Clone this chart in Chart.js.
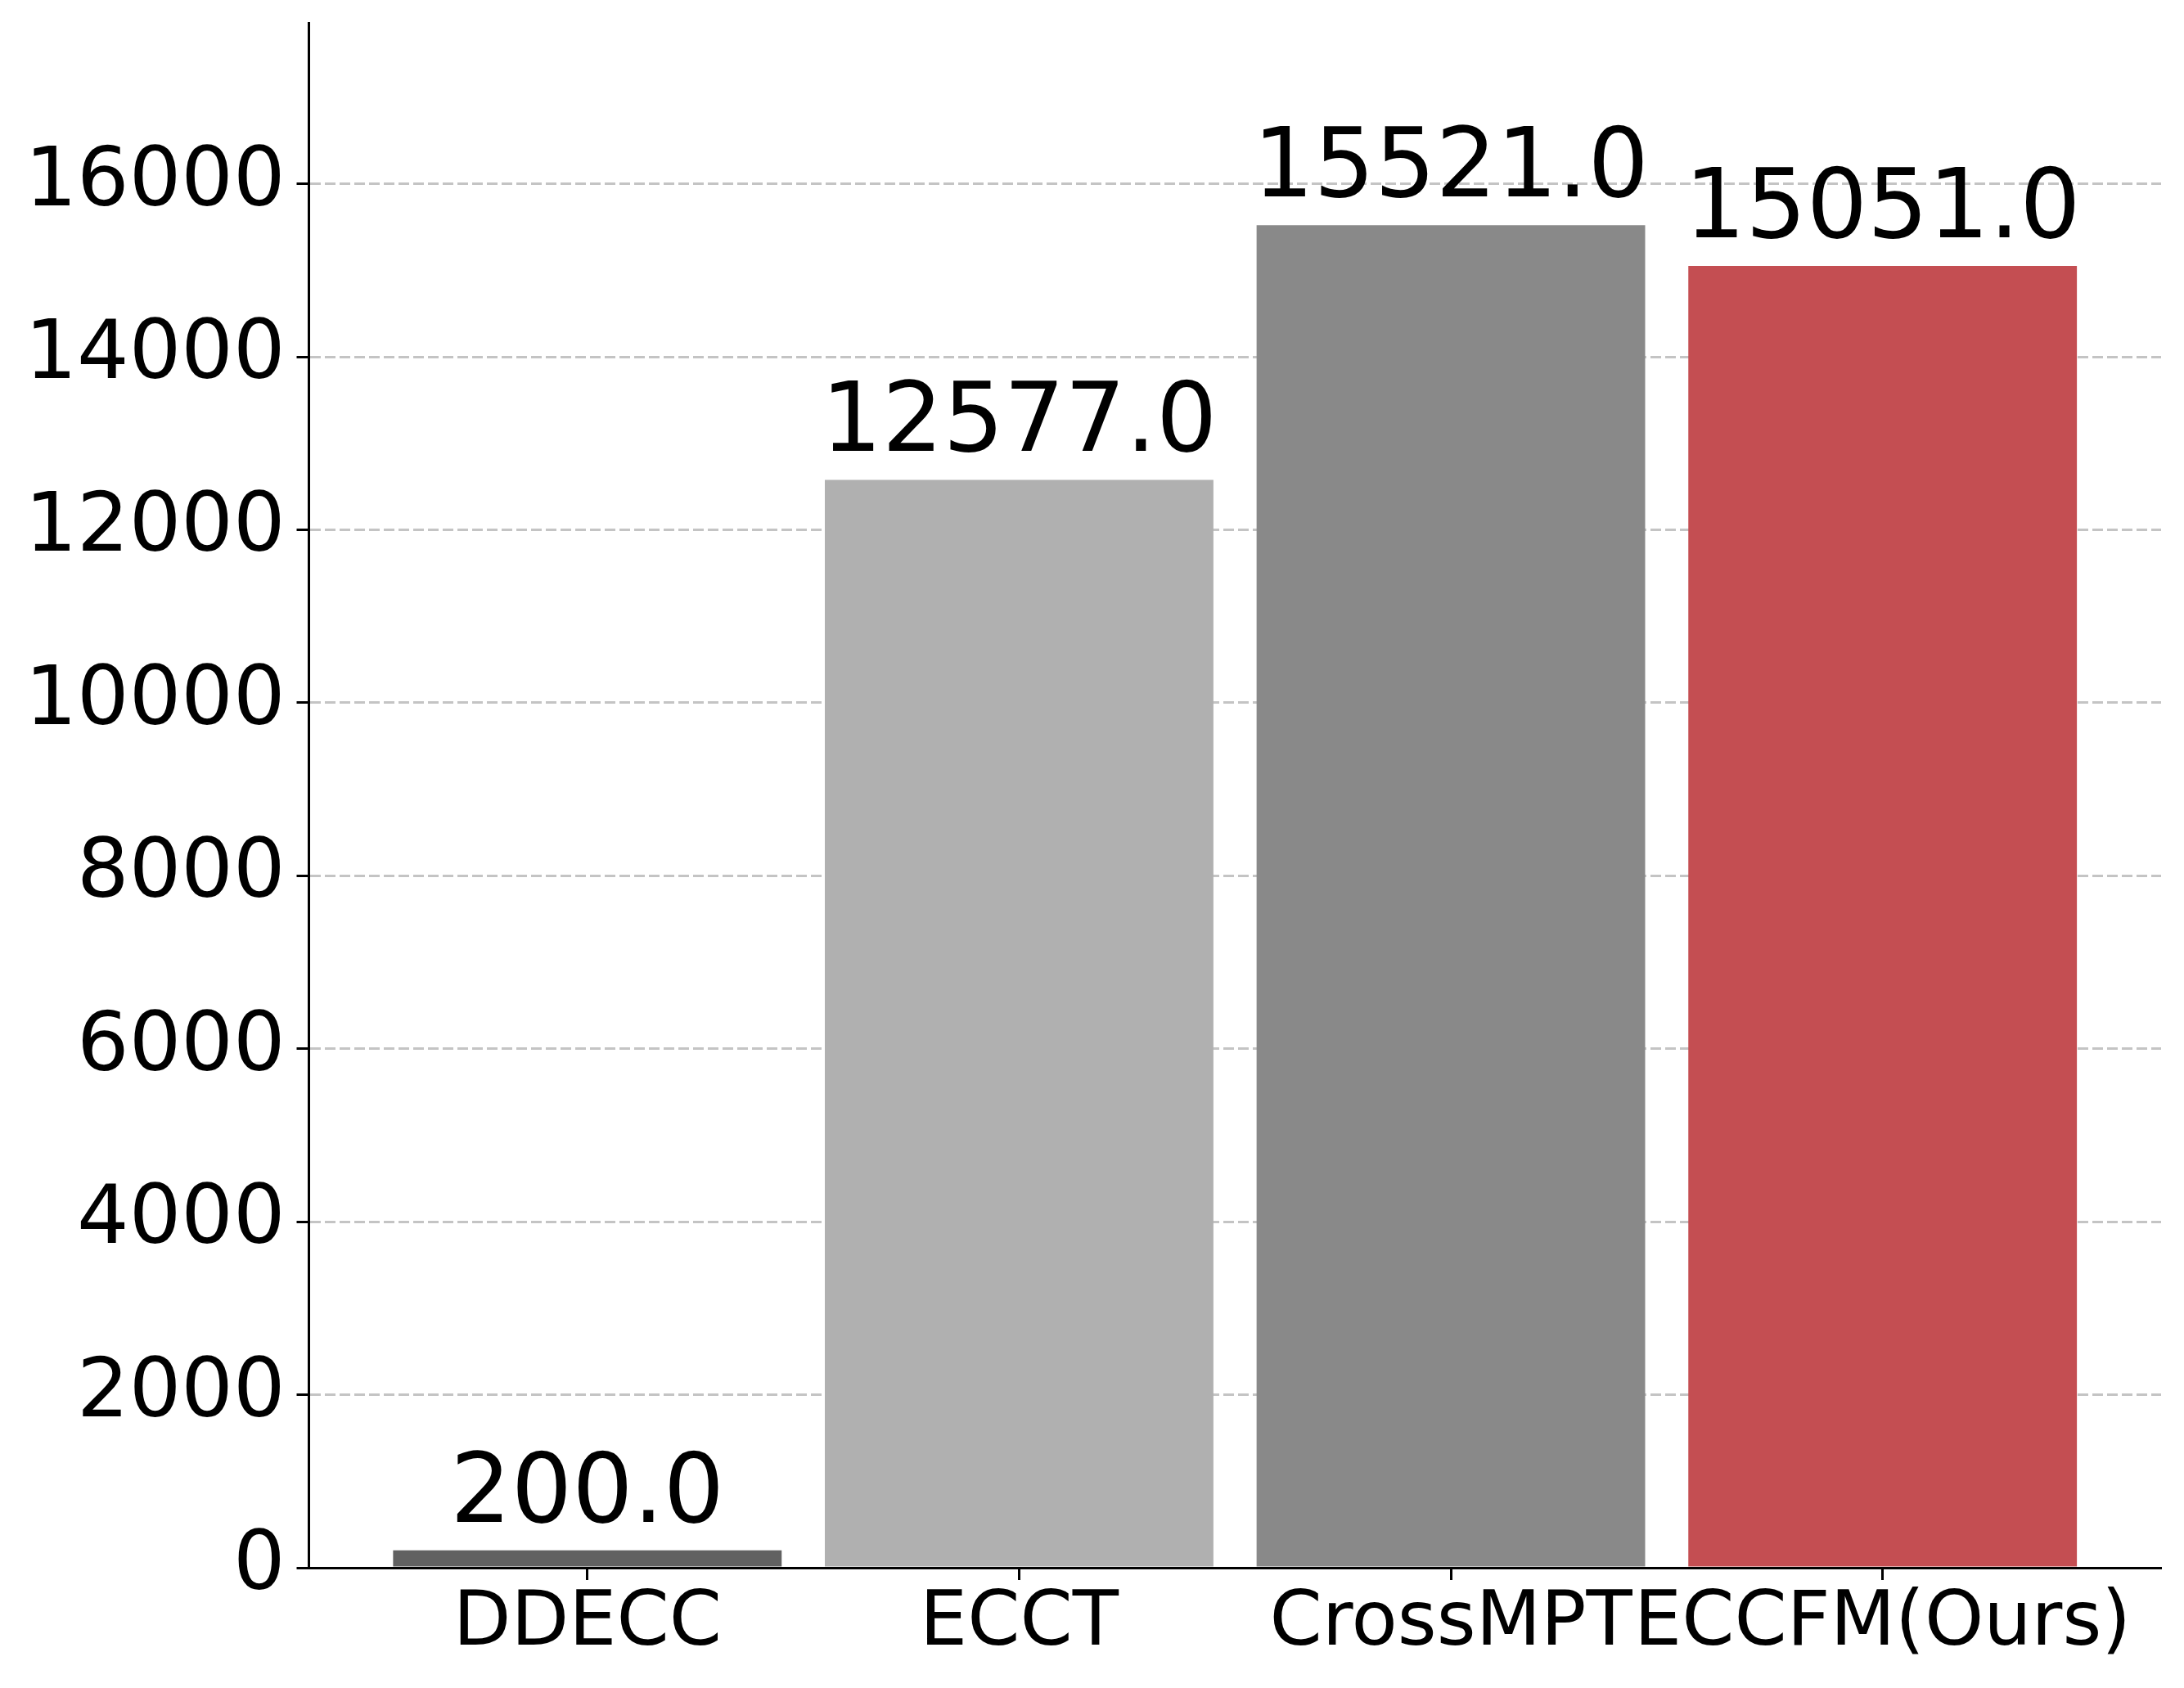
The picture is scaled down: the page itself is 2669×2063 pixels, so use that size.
<!DOCTYPE html>
<html>
<head>
<meta charset="utf-8">
<title>Bar chart</title>
<script src="https://cdn.jsdelivr.net/npm/chart.js@4.4.1/dist/chart.umd.min.js"></script>
<style>
  html, body { margin: 0; padding: 0; background: #fff; }
  canvas { display: block; }
</style>
</head>
<body>
<canvas id="chart" width="2669" height="2063"></canvas>
<script>
// data
const categories = ['DDECC', 'ECCT', 'CrossMPT', 'ECCFM(Ours)'];
const values = [200, 12577, 15521, 15051];
const yTicks = [0, 2000, 4000, 6000, 8000, 10000, 12000, 14000, 16000];
const yMax = 17860;

const barColors = ['#616161', '#b0b0b0', '#898989', '#c44e52'];
const FONT = 'DejaVu Sans';

// value labels above each bar
const valueLabels = {
    id: 'valueLabels',
    afterDatasetsDraw(chart) {
        const ctx = chart.ctx;
        const meta = chart.getDatasetMeta(0);
        ctx.save();
        ctx.font = `117px "${FONT}"`;
        ctx.fillStyle = '#000';
        ctx.textAlign = 'center';
        ctx.textBaseline = 'alphabetic';
        meta.data.forEach((bar, i) => {
            ctx.fillText(values[i].toFixed(1), bar.x, bar.y - 35);
        });
        ctx.restore();
    }
};

new Chart(document.getElementById('chart'), {
    type: 'bar',
    data: {
        datasets: [{
            data: categories.map((c, i) => ({ x: i, y: values[i] })),
            backgroundColor: barColors,
            borderWidth: 0,
            barPercentage: 0.9,
            categoryPercentage: 1.0
        }]
    },
    options: {
        responsive: false,
        animation: false,
        devicePixelRatio: 1,
        layout: { padding: { top: 28, right: 28, bottom: 0, left: 0 } },
        plugins: {
            legend: { display: false },
            tooltip: { enabled: false }
        },
        scales: {
            x: {
                type: 'linear',
                min: -0.645,
                max: 3.645,
                offset: false,
                afterBuildTicks: (scale) => { scale.ticks = categories.map((c, i) => ({ value: i })); },
                afterFit: (scale) => {
                    scale.height = 147;
                    scale.paddingLeft = 0;
                    scale.paddingRight = 0;
                },
                ticks: {
                    autoSkip: false,
                    maxRotation: 0,
                    padding: 9,
                    color: '#000',
                    font: { family: FONT, size: 92, lineHeight: 1 },
                    callback: (v) => categories[v]
                },
                grid: {
                    display: true,
                    offset: false,
                    drawOnChartArea: false,
                    drawTicks: true,
                    tickLength: 15,
                    tickWidth: 3,
                    tickColor: '#000'
                },
                border: { display: true, color: '#000', width: 3, z: 1 }
            },
            y: {
                min: 0,
                max: yMax,
                afterBuildTicks: (scale) => { scale.ticks = yTicks.map(v => ({ value: v })); },
                afterFit: (scale) => {
                    scale.width = 377.5;
                    scale.paddingTop = 0;
                    scale.paddingBottom = 0;
                },
                ticks: {
                    padding: 14,
                    color: '#000',
                    font: { family: FONT, size: 100, lineHeight: 1 },
                    callback: (v) => String(v)
                },
                grid: {
                    display: true,
                    drawOnChartArea: true,
                    color: '#c4c4c4',
                    lineWidth: 3,
                    drawTicks: true,
                    tickLength: 15,
                    tickWidth: 3,
                    tickColor: '#000',
                    tickBorderDash: []
                },
                border: { display: true, color: '#000', width: 3, dash: [13, 5] }
            }
        }
    },
    plugins: [valueLabels]
});
</script>
</body>
</html>
